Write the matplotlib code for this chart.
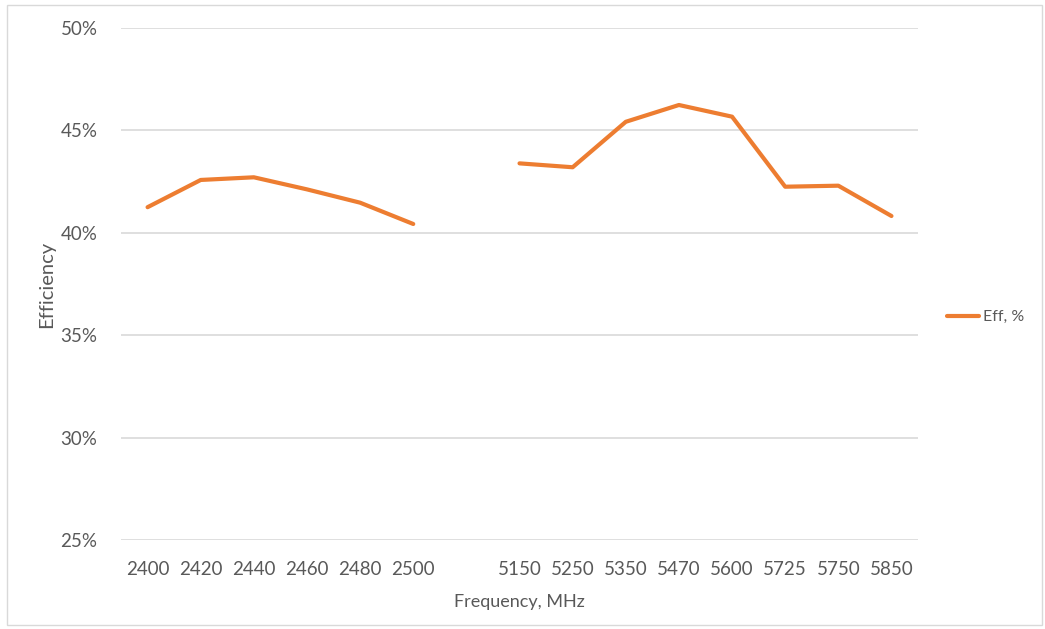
import matplotlib
matplotlib.use("Agg")
import matplotlib.pyplot as plt
import numpy as np

# categories (blank slot separates the 2.4 GHz and 5 GHz bands)
freqs = ["2400", "2420", "2440", "2460", "2480", "2500", "",
         "5150", "5250", "5350", "5470", "5600", "5725", "5750", "5850"]
eff = [41.25, 42.58, 42.71, 42.12, 41.47, 40.43, np.nan,
       43.39, 43.20, 45.42, 46.24, 45.67, 42.25, 42.30, 40.82]

plt.rcParams['font.family'] = ['Lato', 'DejaVu Sans']

fig = plt.figure(figsize=(10.45, 6.29), dpi=100)
ax = fig.add_axes([0.1158, 0.1415, 0.7627, 0.814])

x = np.arange(len(freqs))
ax.plot(x, eff, color="#ED7D31", lw=3, solid_capstyle="round", label="Eff, %")

ax.set_xlim(-0.5, len(freqs) - 0.5)
ax.set_ylim(25, 50)
ax.set_xticks(x)
ax.set_xticklabels(freqs)
ax.set_yticks(np.arange(25, 51, 5))
ax.set_yticklabels([f"{v}%" for v in range(25, 51, 5)])
ax.grid(axis="y", color="#d9d9d9", lw=1.2)
ax.set_axisbelow(True)
for s in ax.spines.values():
    s.set_visible(False)
ax.tick_params(length=0, labelsize=13.5, colors="#595959")
ax.tick_params(axis="x", pad=15)
ax.tick_params(axis="y", pad=17)

ax.set_xlabel("Frequency, MHz", fontsize=13, color="#595959", labelpad=12)
ax.set_ylabel("Efficiency", fontsize=14.5, color="#595959", labelpad=4)

ax.legend(loc="center left", bbox_to_anchor=(1.018, 0.435), frameon=False,
          fontsize=11.5, labelcolor="#595959", handlelength=2.0, handletextpad=0.3)

# light frame around the chart area
fig.patches.append(plt.Rectangle((7 / 1045, 4 / 629), 1035 / 1045, 620 / 629,
                                 transform=fig.transFigure, fill=False,
                                 edgecolor="#d9d9d9", lw=1))

fig.savefig("out.png", dpi=100)
